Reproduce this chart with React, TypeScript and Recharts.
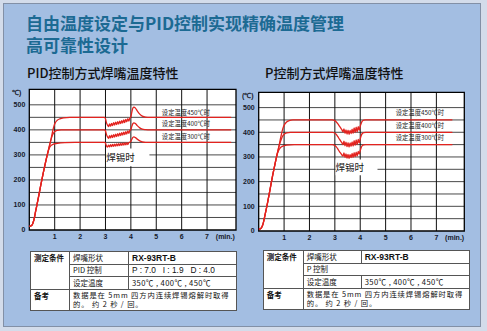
import React from "react";
import {
  CartesianGrid,
  Line,
  LineChart,
  ReferenceArea,
  ReferenceDot,
  XAxis,
  YAxis,
} from "recharts";

type Pt = [number, number];

const xTicks = [1, 2, 3, 4, 5, 6, 7];
const minSlot = 7.72; // where "(min.)" sits on the time axis
const yTicks = [0, 100, 200, 300, 400, 500];
const yGrid = [50, 100, 150, 200, 250, 300, 350, 400, 450, 500];

// PID control curves (minutes, °C)
const pidRise: Pt[] = [
  [0, 15], [0.06, 16], [0.12, 22], [0.18, 40], [0.25, 75], [0.35, 125],
  [0.45, 178], [0.55, 228], [0.65, 275],
];
const pid450: Pt[] = [
  [0.75, 318], [0.85, 360], [0.92, 395], [0.97, 415], [1.02, 428], [1.1, 438],
  [1.2, 444], [1.35, 448], [1.6, 450], [2.96, 450],
  [3.0, 444], [3.04, 428], [3.08, 419], [3.12, 413], [3.16, 424], [3.2, 415],
  [3.24, 426], [3.28, 417], [3.32, 429], [3.36, 419], [3.4, 431], [3.44, 421],
  [3.48, 433], [3.52, 423], [3.56, 435], [3.6, 425], [3.64, 437], [3.68, 427],
  [3.72, 440], [3.76, 429], [3.8, 442], [3.84, 432], [3.88, 445], [3.92, 435],
  [3.96, 447], [4.0, 452], [4.04, 472], [4.08, 487], [4.12, 491], [4.18, 487],
  [4.25, 476], [4.35, 463], [4.45, 455], [4.58, 451], [4.75, 450], [7.95, 450],
];
const pid400: Pt[] = [
  [0.75, 318], [0.82, 348], [0.88, 370], [0.94, 385], [1.0, 393], [1.1, 398],
  [1.25, 400], [2.96, 400],
  [3.0, 396], [3.04, 381], [3.08, 372], [3.12, 366], [3.16, 377], [3.2, 368],
  [3.24, 379], [3.28, 369], [3.32, 381], [3.36, 371], [3.4, 383], [3.44, 373],
  [3.48, 385], [3.52, 375], [3.56, 387], [3.6, 377], [3.64, 389], [3.68, 379],
  [3.72, 391], [3.76, 381], [3.8, 393], [3.84, 383], [3.88, 396], [3.92, 386],
  [3.96, 398], [4.0, 402], [4.04, 415], [4.08, 425], [4.12, 428], [4.18, 425],
  [4.25, 417], [4.35, 408], [4.45, 403], [4.58, 401], [4.75, 400], [7.95, 400],
];
const pid350: Pt[] = [
  [0.72, 305], [0.78, 325], [0.85, 337], [0.95, 343], [1.1, 346], [1.4, 349],
  [1.8, 350], [2.96, 350],
  [3.0, 347], [3.04, 336], [3.08, 331], [3.12, 339], [3.16, 332], [3.2, 341],
  [3.24, 333], [3.28, 342], [3.32, 334], [3.36, 343], [3.4, 335], [3.44, 344],
  [3.48, 336], [3.52, 345], [3.56, 337], [3.6, 346], [3.64, 338], [3.68, 347],
  [3.72, 339], [3.76, 348], [3.8, 340], [3.84, 349], [3.88, 341], [3.92, 349],
  [3.96, 351], [4.0, 354], [4.04, 363], [4.08, 370], [4.12, 372], [4.18, 369],
  [4.25, 363], [4.35, 356], [4.45, 352], [4.58, 350], [7.95, 350],
];

// P control curves
const pRise: Pt[] = [
  [0, 8], [0.06, 9], [0.12, 15], [0.18, 32], [0.25, 65], [0.35, 115],
  [0.45, 170], [0.55, 225], [0.65, 275], [0.72, 308],
];
const p450: Pt[] = [
  [0.8, 345], [0.88, 385], [0.95, 415], [1.02, 432], [1.1, 442], [1.2, 447],
  [1.35, 450], [2.9, 450],
  [2.98, 448], [3.05, 443], [3.12, 434], [3.18, 425], [3.24, 416], [3.28, 410],
  [3.32, 402], [3.36, 414], [3.4, 396], [3.44, 410], [3.48, 393], [3.52, 409],
  [3.56, 392], [3.6, 408], [3.64, 395], [3.68, 413], [3.72, 396], [3.76, 418],
  [3.8, 399], [3.84, 421], [3.88, 402], [3.92, 423], [3.96, 408], [4.0, 425],
  [4.04, 437], [4.08, 445], [4.14, 449], [4.22, 450], [7.63, 450],
];
const p400: Pt[] = [
  [0.78, 335], [0.85, 360], [0.92, 380], [1.0, 392], [1.1, 398], [1.25, 400],
  [2.9, 400],
  [2.98, 398], [3.05, 392], [3.12, 382], [3.18, 372], [3.24, 363], [3.28, 357],
  [3.32, 350], [3.36, 364], [3.4, 345], [3.44, 360], [3.48, 342], [3.52, 358],
  [3.56, 340], [3.6, 357], [3.64, 343], [3.68, 361], [3.72, 344], [3.76, 366],
  [3.8, 347], [3.84, 369], [3.88, 350], [3.92, 371], [3.96, 357], [4.0, 373],
  [4.04, 387], [4.08, 395], [4.14, 399], [4.22, 400], [7.63, 400],
];
const p350: Pt[] = [
  [0.78, 325], [0.85, 337], [0.95, 344], [1.1, 348], [1.4, 350], [2.9, 350],
  [2.98, 348], [3.05, 342], [3.12, 332], [3.18, 322], [3.24, 314], [3.28, 308],
  [3.32, 303], [3.36, 316], [3.4, 298], [3.44, 312], [3.48, 295], [3.52, 310],
  [3.56, 294], [3.6, 309], [3.64, 297], [3.68, 314], [3.72, 298], [3.76, 317],
  [3.8, 301], [3.84, 320], [3.88, 304], [3.92, 323], [3.96, 312], [4.0, 326],
  [4.04, 338], [4.08, 346], [4.14, 349], [4.22, 350], [7.63, 350],
];

const curveLabels = ["设定温度450℃时", "设定温度400℃时", "设定温度300℃时"];

const RED = "#e3231f";
const tickFont = {
  fontSize: 7,
  fontWeight: 700,
  fill: "#15192a",
  fontFamily: "Arial, 'Liberation Sans', sans-serif",
};

const toRows = (pts: Pt[]) => pts.map(([t, v]) => ({ t, v }));

interface ChartProps {
  left: number;
  series: Pt[][];
  xMax: number;
  margin: { top: number; right: number; left: number; bottom: number };
  yAxisWidth: number;
  xAxisHeight: number;
  labelAt: { t: number; v: number[] };
  box: { x1: number; x2: number; y1: number; y2: number };
}

function TempChart({ left, series, xMax, margin, yAxisWidth, xAxisHeight, labelAt, box }: ChartProps) {
  return (
    <div style={{ position: "absolute", left, top: 84 }}>
      <LineChart width={245} height={160} margin={margin}>
        <CartesianGrid vertical={false} horizontalValues={yGrid} stroke="#4a4a4a" fill="#fff" />
        <CartesianGrid horizontal={false} verticalValues={xTicks} stroke="#111" />
        <XAxis
          type="number"
          dataKey="t"
          domain={[0, xMax]}
          ticks={[...xTicks, minSlot]}
          tickFormatter={(v: number) => (v === minSlot ? "(min.)" : String(v))}
          interval={0}
          axisLine={false}
          tickLine={false}
          tickSize={2}
          tickMargin={2}
          height={xAxisHeight}
          tick={tickFont}
          allowDataOverflow
        />
        <YAxis
          type="number"
          domain={[0, 562]}
          ticks={yTicks}
          interval={0}
          axisLine={false}
          tickLine={false}
          tickSize={2}
          tickMargin={2}
          width={yAxisWidth}
          tick={tickFont}
          allowDataOverflow
        />
        <ReferenceArea
          x1={box.x1}
          x2={box.x2}
          y1={box.y1}
          y2={box.y2}
          fill="#fff"
          fillOpacity={1}
          stroke="none"
          label={{
            value: "焊锡时",
            position: "insideLeft",
            offset: 0,
            fontSize: 9.5,
            fill: "#111",
            fontFamily: "'Noto Sans CJK SC', sans-serif",
          }}
        />
        {series.map((s, i) => (
          <Line
            key={i}
            data={toRows(s)}
            dataKey="v"
            type="monotone"
            stroke={RED}
            strokeWidth={1.3}
            dot={false}
            isAnimationActive={false}
          />
        ))}
        {curveLabels.map((text, i) => (
          <ReferenceDot
            key={text}
            x={labelAt.t}
            y={labelAt.v[i]}
            r={0}
            stroke="none"
            fill="none"
            label={{
              value: text,
              position: "right",
              offset: 0,
              fontSize: 6.3,
              fill: "#222",
              fontFamily: "'Noto Sans CJK SC', sans-serif",
            }}
          />
        ))}
        <ReferenceArea x1={0} x2={xMax} y1={0} y2={562} fill="none" stroke="#000" strokeWidth={1.3} />
      </LineChart>
    </div>
  );
}

const cell: React.CSSProperties = {
  border: "1px solid #555",
  padding: "0 3px",
  height: 11.6,
  lineHeight: "10px",
  verticalAlign: "middle",
  whiteSpace: "nowrap",
};
const bold: React.CSSProperties = { ...cell, fontWeight: 700 };
const latin: React.CSSProperties = { fontFamily: "Arial, 'Liberation Sans', sans-serif" };

function SpecTable({ left, top, control, colWidths }: { left: number; top: number; control: "pid" | "p"; colWidths: number[] }) {
  return (
    <table
      style={{
        position: "absolute",
        left,
        top,
        width: 207,
        borderCollapse: "collapse",
        background: "#fff",
        fontSize: 7.5,
        color: "#111",
        fontFamily: "'Noto Sans CJK SC', Arial, sans-serif",
        tableLayout: "fixed",
      }}
    >
      <colgroup>
        {colWidths.map((w, i) => (
          <col key={i} style={{ width: w }} />
        ))}
        <col />
      </colgroup>
      <tbody>
        <tr>
          <td rowSpan={3} style={{ ...bold, verticalAlign: "top", paddingTop: 1 }}>测定条件</td>
          <td style={cell}>焊嘴形状</td>
          <td style={{ ...bold, ...latin, fontSize: 8.5 }}>RX-93RT-B</td>
        </tr>
        {control === "pid" ? (
          <tr>
            <td style={cell}>PID 控制</td>
            <td style={{ ...cell, ...latin, fontSize: 8.3 }}>P : 7.0&nbsp;&nbsp; I : 1.9&nbsp;&nbsp; D : 4.0</td>
          </tr>
        ) : (
          <tr>
            <td style={cell} colSpan={2}>P 控制</td>
          </tr>
        )}
        <tr>
          <td style={cell}>设定温度</td>
          <td style={{ ...cell, fontSize: 7.6, letterSpacing: 0.4 }}>350℃ , 400℃ , 450℃</td>
        </tr>
        <tr>
          <td style={{ ...bold, verticalAlign: "top", paddingTop: 1, height: 19 }}>备考</td>
          <td colSpan={2} style={{ ...cell, letterSpacing: 0.9, fontSize: 7.3, padding: "0 3px" }}>
            <div style={{ height: 9, lineHeight: "9px" }}>数据是在 5mm 四方内连续焊锡熔解时取得</div>
            <div style={{ height: 9, lineHeight: "9px" }}>的。 约 2 秒 / 回。</div>
          </td>
        </tr>
      </tbody>
    </table>
  );
}

const titleStyle: React.CSSProperties = {
  position: "absolute",
  left: 26,
  fontSize: 17,
  lineHeight: "17px",
  fontWeight: 700,
  color: "#1c6a93",
  whiteSpace: "nowrap",
};
const subStyle: React.CSSProperties = {
  position: "absolute",
  top: 65,
  fontSize: 13,
  lineHeight: "16px",
  fontWeight: 500,
  color: "#111",
  whiteSpace: "nowrap",
};

export default function App() {
  return (
    <div
      style={{
        position: "relative",
        width: 487,
        height: 331,
        background: "#d3dcea",
        overflow: "hidden",
        fontFamily: "'Noto Sans CJK SC', sans-serif",
      }}
    >
      <style>{"body{margin:0}"}</style>
      <div
        style={{
          position: "absolute",
          left: 3,
          top: 3,
          width: 476,
          height: 322,
          background: "#a3bee2",
          border: "1px solid #8290a6",
        }}
      />
      <div style={{ ...titleStyle, top: 14 }}>自由温度设定与PID控制实现精确温度管理</div>
      <div style={{ ...titleStyle, top: 36 }}>高可靠性设计</div>
      <div style={{ ...subStyle, left: 27 }}>PID控制方式焊嘴温度特性</div>
      <div style={{ ...subStyle, left: 265 }}>P控制方式焊嘴温度特性</div>
      <div style={{ position: "absolute", left: 12, top: 88, ...tickFont, color: "#15192a", fontSize: 7 }}>℃)</div>
      <div style={{ position: "absolute", left: 242, top: 91, ...tickFont, color: "#15192a", fontSize: 7 }}>(℃)</div>

      <TempChart
        left={0}
        series={[[...pidRise, ...pid450], [...pidRise, ...pid400], [...pidRise, ...pid350]]}
        xMax={8.14}
        margin={{ top: 5.3, right: 9, left: 0, bottom: 0 }}
        yAxisWidth={29.3}
        xAxisHeight={14}
        labelAt={{ t: 5.22, v: [469, 423, 371] }}
        box={{ x1: 3.03, x2: 4.73, y1: 255, y2: 326 }}
      />
      <TempChart
        left={242}
        series={[[...pRise, ...p450], [...pRise, ...p400], [...pRise, ...p350]]}
        xMax={8.1}
        margin={{ top: 8.3, right: 22.7, left: 0, bottom: 0 }}
        yAxisWidth={16.7}
        xAxisHeight={13}
        labelAt={{ t: 5.4, v: [481, 426, 376] }}
        box={{ x1: 3.03, x2: 4.68, y1: 226, y2: 290 }}
      />

      <SpecTable left={30} top={251} control="pid" colWidths={[39, 59]} />
      <SpecTable left={262.7} top={250} control="p" colWidths={[40, 58]} />
    </div>
  );
}
